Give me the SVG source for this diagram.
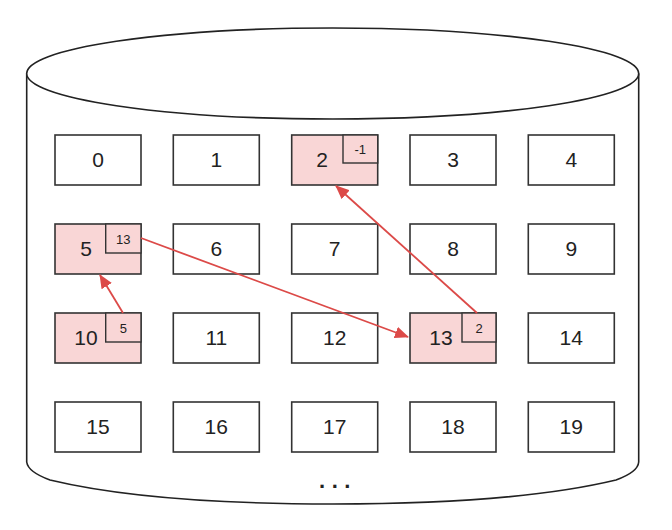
<svg xmlns="http://www.w3.org/2000/svg" width="672" height="530" viewBox="0 0 672 530">
<defs>
<style>
.cyl{fill:#fff;stroke:#222;stroke-width:1.6}
.box{fill:#fff;stroke:#333;stroke-width:1.6}
.hl{fill:#f9d6d6}
.sub{fill:#f9d6d6;stroke:#333;stroke-width:1.4}
.t{font-family:"Liberation Sans","DejaVu Sans",sans-serif;font-size:21px;fill:#222;text-anchor:middle}
.s{font-family:"Liberation Sans","DejaVu Sans",sans-serif;font-size:13px;fill:#222;text-anchor:middle}
.arr{fill:none;stroke:#dc4a48;stroke-width:1.8}
</style>
<marker id="ah" markerUnits="userSpaceOnUse" markerWidth="14" markerHeight="12" refX="13" refY="6" orient="auto">
<path d="M0,0 L14,6 L0,12 Z" fill="#dc4a48"/>
</marker>
</defs>
<rect width="672" height="530" fill="#fff"/>
<g id="cylinder">
<path class="cyl" d="M26.7,73.5 L26.7,462 Q28,472 50,480 Q150,504 333,504 Q516,504 616,480 Q638,472 638.7,462 L638.7,73.5"/>
<ellipse class="cyl" cx="332.7" cy="73.5" rx="306" ry="45.5"/>
<text x="338" y="488" font-family="Liberation Sans, sans-serif" font-size="22" font-weight="bold" letter-spacing="6.5" text-anchor="middle" fill="#222">...</text>
</g>
<g id="n0"><rect class="box" x="55" y="135" width="86" height="50"/><text class="t" x="98" y="167">0</text></g>
<g id="n1"><rect class="box" x="173.3" y="135" width="86" height="50"/><text class="t" x="216.3" y="167">1</text></g>
<g id="n2"><rect class="box hl" x="291.7" y="135" width="86" height="50"/><text class="t" x="322" y="167">2</text><rect class="sub" x="343" y="135" width="34.7" height="28"/><text class="s" x="360.3" y="154">-1</text></g>
<g id="n3"><rect class="box" x="410" y="135" width="86" height="50"/><text class="t" x="453" y="167">3</text></g>
<g id="n4"><rect class="box" x="528.3" y="135" width="86" height="50"/><text class="t" x="571.3" y="167">4</text></g>
<g id="n5"><rect class="box hl" x="55" y="224" width="86" height="50"/><text class="t" x="86" y="256">5</text><rect class="sub" x="105.7" y="224" width="35.3" height="29"/><text class="s" x="123.3" y="243.5">13</text></g>
<g id="n6"><rect class="box" x="173.3" y="224" width="86" height="50"/><text class="t" x="216.3" y="256">6</text></g>
<g id="n7"><rect class="box" x="291.7" y="224" width="86" height="50"/><text class="t" x="334.7" y="256">7</text></g>
<g id="n8"><rect class="box" x="410" y="224" width="86" height="50"/><text class="t" x="453" y="256">8</text></g>
<g id="n9"><rect class="box" x="528.3" y="224" width="86" height="50"/><text class="t" x="571.3" y="256">9</text></g>
<g id="n10"><rect class="box hl" x="55" y="313" width="86" height="50"/><text class="t" x="86" y="345">10</text><rect class="sub" x="105.7" y="313" width="35.3" height="29"/><text class="s" x="123.3" y="332.5">5</text></g>
<g id="n11"><rect class="box" x="173.3" y="313" width="86" height="50"/><text class="t" x="216.3" y="345">11</text></g>
<g id="n12"><rect class="box" x="291.7" y="313" width="86" height="50"/><text class="t" x="334.7" y="345">12</text></g>
<g id="n13"><rect class="box hl" x="410" y="313" width="86" height="50"/><text class="t" x="441" y="345">13</text><rect class="sub" x="462" y="313" width="34" height="29"/><text class="s" x="479" y="332.5">2</text></g>
<g id="n14"><rect class="box" x="528.3" y="313" width="86" height="50"/><text class="t" x="571.3" y="345">14</text></g>
<g id="n15"><rect class="box" x="55" y="402" width="86" height="50"/><text class="t" x="98" y="434">15</text></g>
<g id="n16"><rect class="box" x="173.3" y="402" width="86" height="50"/><text class="t" x="216.3" y="434">16</text></g>
<g id="n17"><rect class="box" x="291.7" y="402" width="86" height="50"/><text class="t" x="334.7" y="434">17</text></g>
<g id="n18"><rect class="box" x="410" y="402" width="86" height="50"/><text class="t" x="453" y="434">18</text></g>
<g id="n19"><rect class="box" x="528.3" y="402" width="86" height="50"/><text class="t" x="571.3" y="434">19</text></g>
<g id="connectors">
<line class="arr" x1="123" y1="313" x2="100" y2="275" marker-end="url(#ah)"/>
<line class="arr" x1="141" y1="238" x2="408" y2="337" marker-end="url(#ah)"/>
<line class="arr" x1="477" y1="313" x2="336" y2="186" marker-end="url(#ah)"/>
</g>
</svg>
